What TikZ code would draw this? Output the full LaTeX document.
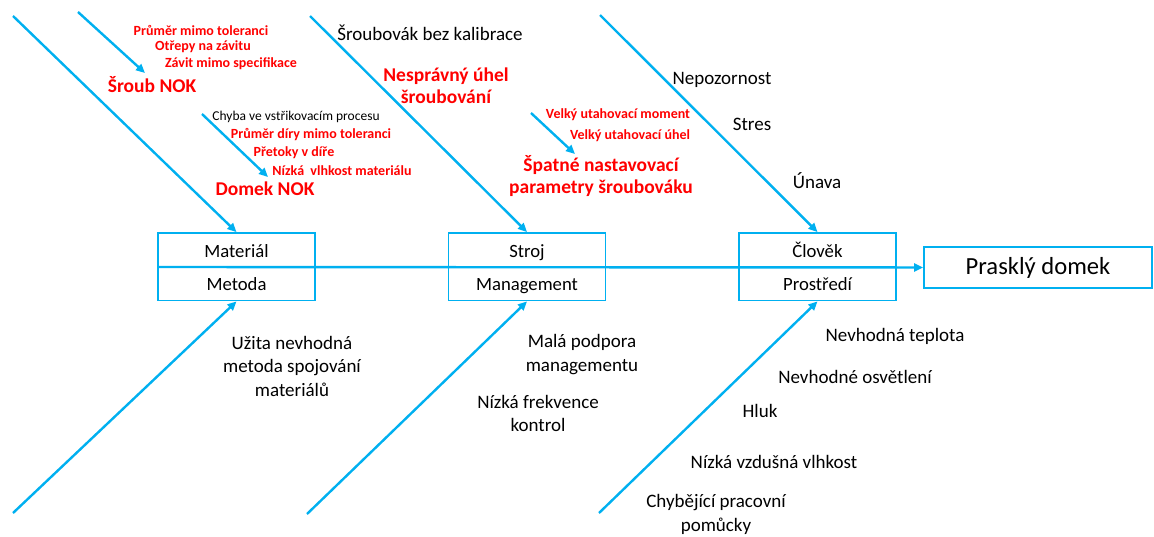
\documentclass[tikz,border=0pt]{standalone}
\usepackage{fontspec}
\setmainfont{Carlito}
\usetikzlibrary{arrows.meta}
\definecolor{fishblue}{RGB}{0,176,240}
\definecolor{causered}{RGB}{255,0,0}
\begin{document}
\begin{tikzpicture}[x=1pt,y=-1pt,
  bone/.style={draw=fishblue,line width=2.4pt,-{Triangle[length=9pt,width=8pt]}},
  catbox/.style={draw=fishblue,line width=1.8pt,minimum width=157pt,minimum height=34pt,inner sep=0pt,text height=16pt,text depth=2pt,font=\fontsize{18.7}{22}\selectfont},
  effbox/.style={draw=fishblue,line width=1.8pt,minimum width=228pt,minimum height=41pt,inner sep=0pt,text height=17pt,text depth=4pt,font=\fontsize{24.6}{28}\selectfont},
  blk/.style={inner sep=0pt,align=center,font=\fontsize{19}{23.5}\selectfont},
  blksm/.style={inner sep=0pt,align=center,font=\fontsize{13.5}{15}\selectfont},
  redsm/.style={inner sep=0pt,align=center,text=causered,font=\fontsize{14}{16}\selectfont\bfseries},
  redbig/.style={inner sep=0pt,align=center,text=causered,font=\fontsize{19.5}{22}\selectfont\bfseries}
]
\useasboundingbox (0,0) rectangle (1154,536);

% category boxes
\node[catbox] (mat) at (236.5,250) {Materiál};
\node[catbox] (met) at (236.5,283.5) {Metoda};
\node[catbox] (str) at (527,250) {Stroj};
\node[catbox] (man) at (527,283.5) {Management};
\node[catbox] (clo) at (817.5,250) {Člověk};
\node[catbox] (pro) at (817.5,283.5) {Prostředí};
\node[effbox] (eff) at (1038,267.5) {Prasklý domek};

% spine
\coordinate (spine) at (158,267);
\draw[bone] (spine) -- (eff.west);

% main bones
\coordinate (s1) at (13,16);
\coordinate (s2) at (310,16);
\coordinate (s3) at (600,15);
\coordinate (s4) at (13,513);
\coordinate (s5) at (307,514);
\coordinate (s6) at (599,513);
\draw[bone] (s1) -- (mat.north);
\draw[bone] (s2) -- (str.north);
\draw[bone] (s3) -- (clo.north);
\draw[bone] (s4) -- (met.south);
\draw[bone] (s5) -- (man.south);
\draw[bone] (s6) -- (pro.south);

% Material texts
\node[redsm] (p1) at (201,30) {Průměr mimo toleranci};
\node[redsm] (p2) at (203,47) {Otřepy na závitu};
\node[redsm] (p3) at (231,64) {Závit mimo specifikace};
\node[redbig] (sroub) at (152,85) {Šroub NOK};
\node[blksm] (chyba) at (296,117) {Chyba ve vstřikovacím procesu};
\node[redsm] (d1) at (311,135) {Průměr díry mimo toleranci};
\node[redsm] (d2) at (294,153) {Přetoky v díře};
\node[redsm] (d3) at (342,171) {Nízká\ \ vlhkost materiálu};
\node[redbig] (domek) at (265,189) {Domek NOK};
\coordinate (a1) at (78,12);
\coordinate (t1) at (145,73);
\coordinate (a2) at (202,114);
\coordinate (t2) at (268,177);
\draw[bone] (a1) -- (t1);
\draw[bone] (a2) -- (t2);

% Stroj texts
\node[blk] (kal) at (430,33) {Šroubovák bez kalibrace};
\node[redbig] (uhel) at (446,86) {Nesprávný úhel\\šroubování};
\node[redsm] (v1) at (618,115) {Velký utahovací moment};
\node[redsm] (v2) at (630,136) {Velký utahovací úhel};
\node[redbig] (spat) at (601,176) {Špatné nastavovací\\parametry šroubováku};
\coordinate (a3) at (531,113);
\coordinate (t3) at (575,154);
\draw[bone] (a3) -- (t3);

% Clovek texts
\node[blk] (nep) at (722,80) {Nepozornost};
\node[blk] (stres) at (752,124) {Stres};
\node[blk] (unava) at (817,181) {Únava};

% lower texts
\node[blk] (uzita) at (292,366) {Užita nevhodná\\metoda spojování\\materiálů};
\node[blk] (mala) at (582,354.5) {Malá podpora\\managementu};
\node[blk] (frek) at (538,413.5) {Nízká frekvence\\kontrol};
\node[blk] (tepl) at (895,336) {Nevhodná teplota};
\node[blk] (osv) at (855,377) {Nevhodné osvětlení};
\node[blk] (hluk) at (760,411) {Hluk};
\node[blk] (vzd) at (774,462) {Nízká vzdušná vlhkost};
\node[blk] (chyb) at (716,514.5) {Chybějící pracovní\\pomůcky};
\end{tikzpicture}
\end{document}
